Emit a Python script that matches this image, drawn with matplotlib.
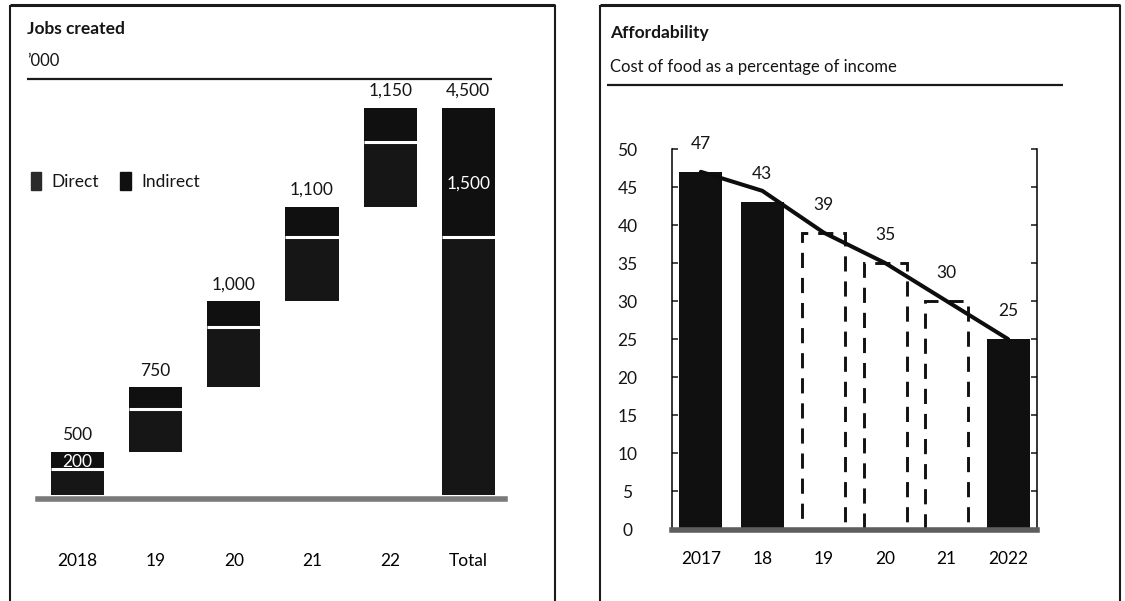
import matplotlib
matplotlib.use('Agg')
import matplotlib.pyplot as plt
from matplotlib.patches import Patch
from matplotlib.lines import Line2D
import numpy as np

plt.rcParams['font.family'] = ['Lato', 'DejaVu Sans']
plt.rcParams['text.color'] = '#151515'

# jobs created, '000
JOB_YEARS    = ['2018', '19', '20', '21', '22']
JOB_DIRECT   = [300, 500, 700, 750, 750]
JOB_INDIRECT = [200, 250, 300, 350, 400]
JOB_TOTALS   = [500, 750, 1000, 1100, 1150]

# cost of food as % of income
FOOD_YEARS  = ['2017', '18', '19', '20', '21', '2022']
FOOD_SHARE  = [47, 43, 39, 35, 30, 25]
FOOD_FORECAST = [False, False, True, True, True, False]
FOOD_TREND  = [47, 44.5, 39, 35, 30, 25]

FS = 12.5
TITLE_FS = 12.5
SUB_FS = 12

W, H = 1125, 601
fig = plt.figure(figsize=(W / 100, H / 100), dpi=100)
fig.patch.set_facecolor('white')


def px_rect(left, top, right, bottom):
    return [left / W, (H - bottom) / H, (right - left) / W, (bottom - top) / H]


def fig_line(x0, y0, x1, y1, lw, color='#1a1a1a'):
    fig.add_artist(Line2D([x0 / W, x1 / W], [(H - y0) / H, (H - y1) / H],
                          transform=fig.transFigure, lw=lw, color=color,
                          solid_capstyle='butt'))


# panel frames
for l, r in [(10, 555), (600, 1120)]:
    fig_line(l, 5, r, 5, 2.2)
    fig_line(l, 5, l, 610, 1.5)
    fig_line(r, 5, r, 610, 1.5)

# ---- left panel: waterfall of jobs created ----
ax1 = fig.add_axes(px_rect(38, 99, 505, 499))
n = len(JOB_YEARS)
x = np.arange(n + 1)
width = 0.68
starts = np.concatenate([[0], np.cumsum(JOB_TOTALS)[:-1]])
tot_direct = sum(JOB_DIRECT)
tot_indirect = sum(JOB_INDIRECT)

ax1.bar(x[:n], JOB_DIRECT, width, bottom=starts, color='#161616', zorder=2)
top_bars = ax1.bar(x[:n], JOB_INDIRECT, width, bottom=starts + np.array(JOB_DIRECT),
                   color='#101010', zorder=2)
ax1.bar(x[n], tot_direct, width, color='#161616', zorder=2)
ax1.bar(x[n], tot_indirect, width, bottom=tot_direct, color='#101010', zorder=2)

splits = list(starts + np.array(JOB_DIRECT)) + [tot_direct]
ax1.hlines(splits, x - width / 2, x + width / 2, colors='white', lw=2.2, zorder=3)

tops = list(starts + np.array(JOB_TOTALS)) + [tot_direct + tot_indirect]
labels = [f'{v:,}' for v in JOB_TOTALS] + [f'{tot_direct + tot_indirect:,}']
for xi, t, lab in zip(x, tops, labels):
    ax1.annotate(lab, (xi, t), xytext=(0, 12), textcoords='offset points',
                 ha='center', va='center', fontsize=FS)

# indirect share written inside the first and last bars
t0 = ax1.text(x[0], starts[0] + JOB_DIRECT[0] + JOB_INDIRECT[0] / 2 - 15,
              f'{JOB_INDIRECT[0]:,}', color='white', ha='center', va='center',
              fontsize=FS, zorder=4)
t0.set_clip_path(top_bars[0])
ax1.text(x[n], tot_direct + tot_indirect / 2 - 130, f'{tot_indirect:,}',
         color='white', ha='center', va='center', fontsize=FS, zorder=4)

ax1.set_xlim(-0.506, 5.47)
ax1.set_ylim(-50, 4600)
ax1.set_xticks(x)
ax1.set_xticklabels(JOB_YEARS + ['Total'], fontsize=FS)
ax1.tick_params(axis='x', length=0, pad=39)
ax1.set_yticks([])
for s in ['top', 'left', 'right']:
    ax1.spines[s].set_visible(False)
ax1.spines['bottom'].set_color('#7a7a7a')
ax1.spines['bottom'].set_linewidth(4)
ax1.set_facecolor('none')

ax1.legend(handles=[Patch(color='#2a2a2a', label='Direct'),
                    Patch(color='#101010', label='Indirect')],
           loc='center left', bbox_to_anchor=(31 / W, (H - 181) / H),
           bbox_transform=fig.transFigure, ncol=2, frameon=False,
           handlelength=0.6, handleheight=1.25, handletextpad=0.6,
           columnspacing=1.2, borderaxespad=0, borderpad=0, fontsize=FS)

fig.text(27 / W, (H - 29) / H, 'Jobs created', fontsize=TITLE_FS, fontweight='bold',
         va='center', ha='left')
fig.text(27 / W, (H - 61) / H, '\u2019000', fontsize=SUB_FS, va='center', ha='left')
fig_line(27, 79, 492, 79, 1.6)

# ---- right panel: food affordability ----
ax2 = fig.add_axes(px_rect(672, 149, 1037, 530))
xf = np.arange(len(FOOD_YEARS))
bw = 0.7
for xi, v, fc in zip(xf, FOOD_SHARE, FOOD_FORECAST):
    if fc:
        ax2.bar(xi, v, bw, facecolor='white', edgecolor='#111111', lw=2.1,
                linestyle=(0, (5.2, 3.4)), zorder=2)
    else:
        ax2.bar(xi, v, bw, color='#101010', zorder=2)
    ax2.annotate(str(v), (xi, v), xytext=(0, 20), textcoords='offset points',
                 ha='center', va='center', fontsize=FS)

ax2.plot(xf, FOOD_TREND, color='#0d0d0d', lw=2.9, zorder=3,
         solid_joinstyle='round', solid_capstyle='round')

ax2.set_xlim(-0.47, 5.47)
ax2.set_ylim(-0.1, 50)
ax2.set_yticks(np.arange(0, 51, 5))
ax2.set_xticks(xf)
ax2.set_xticklabels(FOOD_YEARS, fontsize=FS)
ax2.tick_params(axis='x', length=0, pad=15)
ax2.tick_params(axis='y', direction='in', length=4, width=1.1, left=True,
                right=True, labelsize=FS, pad=32, colors='#151515')
for lab in ax2.get_yticklabels():
    lab.set_ha('center')
ax2.spines['top'].set_visible(False)
ax2.spines['left'].set_linewidth(1.1)
ax2.spines['right'].set_linewidth(1.1)
ax2.spines['bottom'].set_color('#5e5e5e')
ax2.spines['bottom'].set_linewidth(4)
ax2.spines['bottom'].set_zorder(4)
ax2.set_facecolor('none')

fig.text(610 / W, (H - 33) / H, 'Affordability', fontsize=TITLE_FS, fontweight='bold',
         va='center', ha='left')
fig.text(610 / W, (H - 67) / H, 'Cost of food as a percentage of income',
         fontsize=SUB_FS, va='center', ha='left')
fig_line(607, 85, 1063, 85, 1.6)

fig.savefig('out.png', dpi=100)
